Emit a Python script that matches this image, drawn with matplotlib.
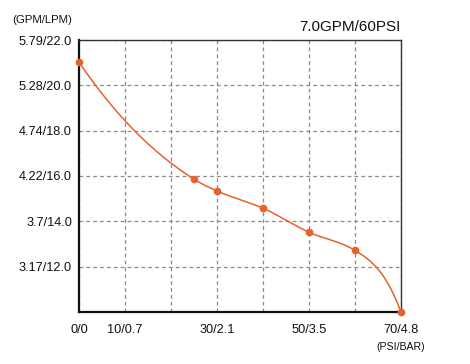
import numpy as np
import matplotlib
matplotlib.use("Agg")
import matplotlib.pyplot as plt

psi = [0, 25, 30, 40, 50, 60, 70]
lpm = [21.03, 15.86, 15.34, 14.58, 13.52, 12.72, 10.0]

x_ticks = [0, 10, 20, 30, 40, 50, 60, 70]
x_labels = ["0/0", "10/0.7", "", "30/2.1", "", "50/3.5", "", "70/4.8"]
y_ticks = [10, 12, 14, 16, 18, 20, 22]
y_labels = ["", "3.17/12.0", "3.7/14.0", "4.22/16.0", "4.74/18.0", "5.28/20.0", "5.79/22.0"]

LINE = "#e8602c"
plt.rcParams["font.family"] = ["Liberation Sans", "DejaVu Sans"]


def smooth(xs, ys, start_slope=-0.30, end_slope=-0.55, n=50):
    # cubic hermite (Fritsch-Butland slopes) through the markers
    xs = np.asarray(xs, float)
    ys = np.asarray(ys, float)
    h = np.diff(xs)
    d = np.diff(ys) / h
    m = np.empty_like(xs)
    m[0], m[-1] = start_slope, end_slope
    for i in range(1, len(xs) - 1):
        w1 = 2 * h[i] + h[i - 1]
        w2 = h[i] + 2 * h[i - 1]
        m[i] = (w1 + w2) / (w1 / d[i - 1] + w2 / d[i])
    t = np.linspace(0, 1, n)
    h00 = 2 * t**3 - 3 * t**2 + 1
    h10 = t**3 - 2 * t**2 + t
    h01 = -2 * t**3 + 3 * t**2
    h11 = t**3 - t**2
    cx, cy = [], []
    for i in range(len(xs) - 1):
        cx.append(xs[i] + t * h[i])
        cy.append(h00 * ys[i] + h10 * h[i] * m[i] + h01 * ys[i + 1] + h11 * h[i] * m[i + 1])
    return np.concatenate(cx), np.concatenate(cy)


fig = plt.figure(figsize=(4.7, 3.64), dpi=100)
ax = fig.add_axes([0.168, 0.143, 0.685, 0.747])

sx, sy = smooth(psi, lpm)
ax.plot(sx, sy, color=LINE, lw=1.1, zorder=3, clip_on=False)
ax.plot(psi, lpm, "o", color=LINE, ms=4.5, zorder=4, clip_on=False)

ax.set_xlim(0, 70)
ax.set_ylim(10, 22)
ax.set_xticks(x_ticks, x_labels)
ax.set_yticks(y_ticks, y_labels)
ax.tick_params(length=0, labelsize=9.2, colors="#111")
ax.tick_params(axis="x", pad=8.5)
ax.tick_params(axis="y", pad=5)
ax.grid(True, ls=(0, (3, 2.5)), color="#8a8a8a", lw=0.9)
for side in ("left", "bottom"):
    ax.spines[side].set_linewidth(1.6)
    ax.spines[side].set_color("#111")
for side in ("top", "right"):
    ax.spines[side].set_linewidth(1.0)
    ax.spines[side].set_color("#333")

ax.text(-0.022, 1.075, "(GPM/LPM)", transform=ax.transAxes, ha="right", va="center",
        fontsize=8.2, color="#111")
ax.text(1.0, 1.033, "7.0GPM/60PSI", transform=ax.transAxes, ha="right", va="baseline",
        fontsize=11, color="#111")
ax.text(1.0, -0.13, "(PSI/BAR)", transform=ax.transAxes, ha="center", va="center",
        fontsize=7.6, color="#111")

fig.savefig("out.png", dpi=100, facecolor="white")
